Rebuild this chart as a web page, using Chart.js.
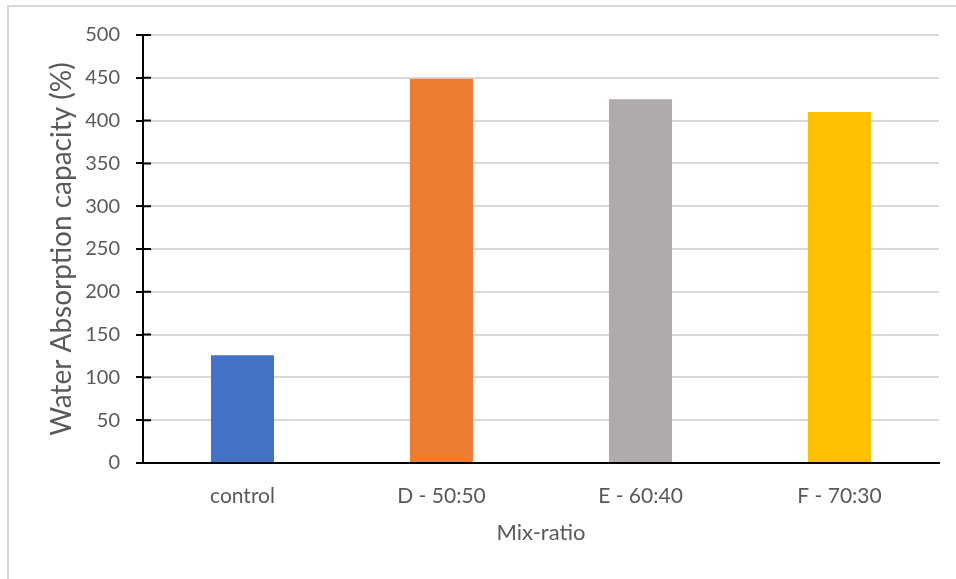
<!DOCTYPE html>
<html>
<head>
<meta charset="utf-8">
<script src="https://cdn.jsdelivr.net/npm/chart.js@4/dist/chart.umd.min.js"></script>
<style>
  html, body { margin: 0; padding: 0; background: #ffffff; }
  #wrap { width: 956px; height: 579px; position: relative; }
</style>
</head>
<body>
<div id="wrap"><canvas id="c" width="956" height="579"></canvas></div>
<script>
const categories = ["control", "D - 50:50", "E - 60:40", "F - 70:30"];
const absorptionValues = [126, 449, 425, 410];
const barColors = ["#4472C4", "#ED7D31", "#AEABAA", "#FFC000"];
const yTickMin = 0;
const yTickMax = 500;
const yTickStep = 50;
const xTitle = "Mix-ratio";
const yTitle = "Water Absorption capacity (%)";

const textColor = "#595959";
const fontFamily = "Lato, 'Open Sans', sans-serif";

const frameAndTicks = {
  id: "frameAndTicks",
  beforeDraw(chart) {
    const ctx = chart.ctx;
    ctx.save();
    ctx.fillStyle = "#ffffff";
    ctx.fillRect(0, 0, chart.width, chart.height);
    ctx.strokeStyle = "#d9d9d9";
    ctx.lineWidth = 2;
    ctx.beginPath();
    ctx.moveTo(8, chart.height);
    ctx.lineTo(8, 6);
    ctx.lineTo(chart.width, 6);
    ctx.stroke();
    ctx.restore();
  },
  afterDraw(chart) {
    const ctx = chart.ctx;
    const y = chart.scales.y;
    const x0 = chart.chartArea.left;
    ctx.save();
    ctx.strokeStyle = "#000000";
    ctx.lineWidth = 2;
    ctx.beginPath();
    y.ticks.forEach(t => {
      const py = y.getPixelForValue(t.value);
      ctx.moveTo(x0, py);
      ctx.lineTo(x0 + 8, py);
    });
    ctx.stroke();
    ctx.restore();
  }
};

new Chart(document.getElementById("c"), {
  type: "bar",
  data: {
    labels: categories,
    datasets: [{
      data: absorptionValues,
      backgroundColor: barColors,
      borderWidth: 0,
      barPercentage: 0.317,
      categoryPercentage: 1.0
    }]
  },
  options: {
    responsive: false,
    animation: false,
    devicePixelRatio: 1,
    layout: { padding: { left: 0, right: 17, top: 35, bottom: 0 } },
    plugins: {
      legend: { display: false },
      tooltip: { enabled: false },
      title: { display: false }
    },
    scales: {
      x: {
        grid: { display: false, drawTicks: false },
        border: { display: true, color: "#000000", width: 2 },
        ticks: {
          color: textColor,
          font: { family: fontFamily, size: 21 },
          padding: 21,
          maxRotation: 0
        },
        title: {
          display: true,
          text: xTitle,
          color: textColor,
          font: { family: fontFamily, size: 22 },
          padding: { top: 0, bottom: 33 }
        },
        afterFit(scale) { scale.height = 579 - 463; }
      },
      y: {
        min: yTickMin,
        max: yTickMax,
        ticks: {
          stepSize: yTickStep,
          color: textColor,
          font: { family: fontFamily, size: 20 },
          padding: 16
        },
        grid: {
          color: "#d9d9d9",
          lineWidth: 2,
          drawTicks: true,
          tickLength: 7,
          tickColor: "#000000",
          tickWidth: 2
        },
        border: { display: true, color: "#000000", width: 2 },
        title: {
          display: true,
          text: yTitle,
          color: textColor,
          font: { family: fontFamily, size: 28 },
          padding: { top: 45, bottom: 0 }
        },
        afterFit(scale) { scale.width = 143; }
      }
    }
  },
  plugins: [frameAndTicks]
});
</script>
</body>
</html>
